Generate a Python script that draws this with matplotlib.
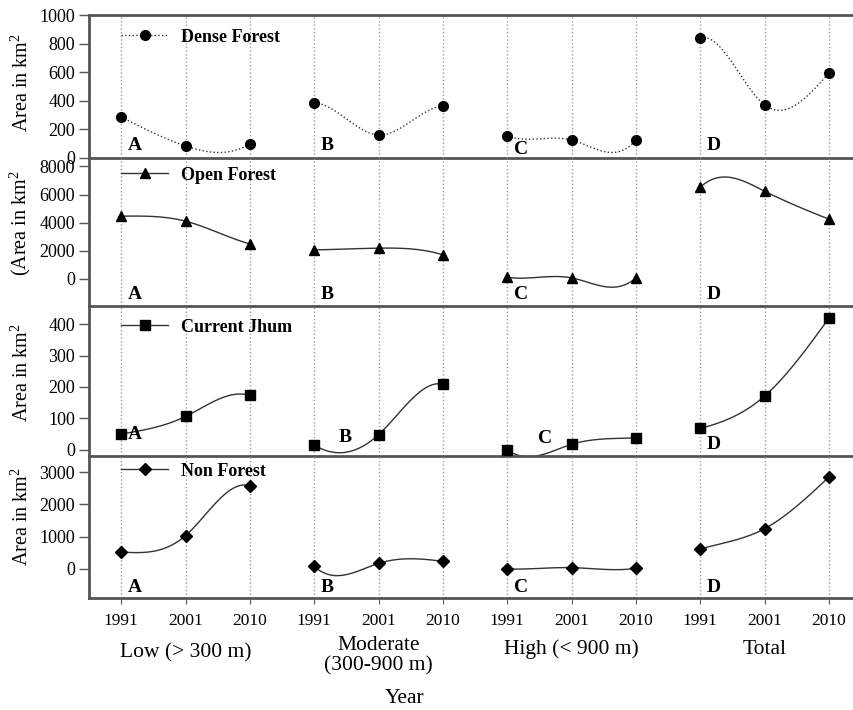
import numpy as np
import matplotlib.pyplot as plt
from matplotlib.lines import Line2D

plt.rcParams['font.family'] = ['Liberation Serif', 'DejaVu Serif']
plt.rcParams['mathtext.fontset'] = 'custom'
plt.rcParams['mathtext.rm'] = 'Liberation Serif'

# data (area in km2)
years = ['1991', '2001', '2010']
groups = ['Low (> 300 m)', 'Moderate\n(300-900 m)', 'High (< 900 m)', 'Total']
letters = ['A', 'B', 'C', 'D']

dense_forest = [287, 84, 98, 385, 161, 364, 154, 126, 126, 839, 371, 594]
open_forest = [4460, 4105, 2490, 2065, 2185, 1710, 110, 70, 70, 6520, 6240, 4245]
current_jhum = [50, 106, 173, 15, 48, 209, 0, 17, 38, 68, 171, 419]
non_forest = [523, 1033, 2570, 80, 172, 234, 0, 40, 20, 615, 1248, 2847]


def natural_spline(y, t):
    ''' natural cubic spline through y at 0..n-1, evaluated at t '''
    y = np.asarray(y, float)
    n = len(y)
    A = np.zeros((n, n))
    r = np.zeros(n)
    A[0, 0] = A[-1, -1] = 1
    for i in range(1, n - 1):
        A[i, i - 1], A[i, i], A[i, i + 1] = 1, 4, 1
        r[i] = 6 * (y[i + 1] - 2 * y[i] + y[i - 1])
    M = np.linalg.solve(A, r)
    i = np.clip(np.floor(t).astype(int), 0, n - 2)
    u = t - i
    return (M[i] * (1 - u)**3 / 6 + M[i + 1] * u**3 / 6
            + (y[i] - M[i] / 6) * (1 - u) + (y[i + 1] - M[i + 1] / 6) * u)


W, H = 854, 710
fig = plt.figure(figsize=(W / 100, H / 100), dpi=100)

# panel edges in pixels (top, bottom)
edges = [(15, 158), (158, 306), (306, 456), (456, 598)]
left_px = 89

panels = [
    dict(y=dense_forest, name='Dense Forest', marker='o', ms=7, ls=':',
         ylim=(0, 1000), ticks=range(0, 1001, 200), leg_y=0.846,
         ylabel='Area in km$^2$', lab_y=0.53,
         let_pos=[(0.1, 0.03), (0.1, 0.03), (0.1, 0.0), (0.1, 0.03)]),
    dict(y=open_forest, name='Open Forest', marker='^', ms=7, ls='-',
         ylim=(-1930, 8600), ticks=range(0, 8001, 2000), leg_y=0.885,
         ylabel='(Area in km$^2$', lab_y=0.56,
         let_pos=[(0.1, 0.02), (0.1, 0.02), (0.1, 0.02), (0.1, 0.02)]),
    dict(y=current_jhum, name='Current Jhum', marker='s', ms=7, ls='-',
         ylim=(-20, 458), ticks=range(0, 401, 100), leg_y=0.859,
         ylabel='Area in km$^2$', lab_y=0.557,
         let_pos=[(0.1, 0.085), (0.38, 0.065), (0.48, 0.06), (0.1, 0.02)]),
    dict(y=non_forest, name='Non Forest', marker='D', ms=6, ls='-',
         ylim=(-900, 3500), ticks=range(0, 3001, 1000), leg_y=0.894,
         ylabel='Area in km$^2$', lab_y=0.577,
         let_pos=[(0.1, 0.015), (0.1, 0.015), (0.1, 0.015), (0.1, 0.015)]),
]

xpos = np.arange(12)
spine_c = '#555555'

for k, (p, (top, bot)) in enumerate(zip(panels, edges)):
    ax = fig.add_axes([left_px / W, 1 - bot / H, 1 - left_px / W, (bot - top) / H])
    ax.patch.set_visible(False)
    ax.set_xlim(-0.5, 11.39)
    ax.set_ylim(*p['ylim'])

    for xv in xpos:
        ax.axvline(xv, color='#999999', ls=':', lw=1, zorder=0)

    for g in range(4):
        t = np.linspace(3 * g, 3 * g + 2, 120)
        ax.plot(t, natural_spline(p['y'], t), color='#333333', lw=1, ls=p['ls'])
    ax.plot(xpos, p['y'], ls='none', marker=p['marker'], ms=p['ms'],
            color='black', zorder=3)

    for g, (dx, fy) in enumerate(p['let_pos']):
        ax.text(3 * g + dx, fy, letters[g], transform=ax.get_xaxis_transform(),
                fontsize=14, fontweight='bold', ha='left', va='bottom')

    h = Line2D([], [], color='#333333', lw=1, ls=p['ls'], marker=p['marker'],
               ms=p['ms'], mfc='black', mec='black')
    ax.legend([h], [p['name']], loc='center left',
              bbox_to_anchor=(0.042, p['leg_y']), frameon=False, borderpad=0,
              borderaxespad=0, handlelength=2.6, handletextpad=0.7,
              prop={'weight': 'bold', 'size': 13})

    ax.set_yticks(list(p['ticks']))
    ax.tick_params(axis='y', labelsize=13, length=7, width=1, color=spine_c, pad=3)
    ax.set_ylabel(p['ylabel'], fontsize=14.5)
    ax.yaxis.set_label_coords(-0.073, p['lab_y'])

    ax.spines['right'].set_visible(False)
    ax.spines['top'].set_visible(k == 0)
    for s in ['left', 'bottom', 'top']:
        ax.spines[s].set_color(spine_c)
        ax.spines[s].set_linewidth(2)

    if k < 3:
        ax.set_xticks([])
    else:
        ax.set_xticks(xpos)
        ax.set_xticklabels(years * 4)
        ax.tick_params(axis='x', labelsize=12.5, length=4, color=spine_c, pad=7)
        for g in range(4):
            yy = [-0.387, -0.408, -0.36, -0.366][g]
            ax.text(3 * g + 1, yy, groups[g], transform=ax.get_xaxis_transform(),
                    fontsize=15.5, ha='center', va='center', linespacing=1.05)
        ax.text(4.4, -0.711, 'Year', transform=ax.get_xaxis_transform(),
                fontsize=15.5, ha='center', va='center')

fig.savefig('out.png', dpi=100)
